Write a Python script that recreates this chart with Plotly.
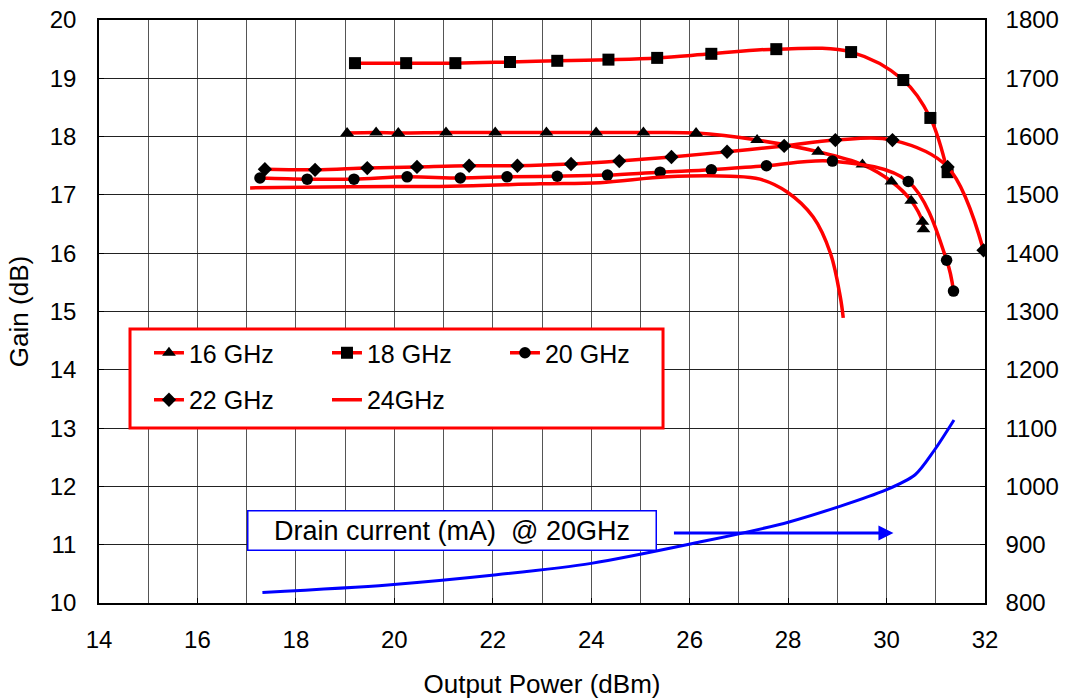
import plotly.graph_objects as go

# ---- data ----
p16 = [19.04, 19.63, 20.08, 21.05, 22.05, 23.09, 24.10, 25.06, 26.13, 27.37, 28.61, 29.51, 30.10, 30.50, 30.73, 30.75]
g16 = [18.06, 18.07, 18.06, 18.07, 18.07, 18.07, 18.07, 18.07, 18.06, 17.94, 17.74, 17.52, 17.23, 16.90, 16.54, 16.41]

p18 = [19.20, 20.24, 21.24, 22.35, 23.31, 24.35, 25.34, 26.44, 27.76, 29.28, 30.34, 30.89, 31.24]
g18 = [19.26, 19.26, 19.26, 19.28, 19.30, 19.32, 19.35, 19.42, 19.50, 19.45, 18.97, 18.32, 17.39]

p20 = [17.27, 18.23, 19.18, 20.26, 21.34, 22.29, 23.31, 24.33, 25.40, 26.44, 27.56, 28.90, 30.44, 31.22, 31.36]
g20 = [17.29, 17.27, 17.27, 17.31, 17.29, 17.31, 17.32, 17.34, 17.39, 17.43, 17.50, 17.58, 17.23, 15.88, 15.35]

p22 = [17.37, 18.39, 19.45, 20.46, 21.52, 22.50, 23.59, 24.57, 25.63, 26.76, 27.92, 28.96, 30.12, 31.24, 31.97]
g22 = [17.44, 17.43, 17.46, 17.48, 17.50, 17.50, 17.53, 17.58, 17.65, 17.74, 17.84, 17.94, 17.94, 17.48, 16.05]

p24 = [17.07, 19.10, 21.13, 22.96, 24.18, 25.54, 26.83, 27.43, 27.98, 28.51, 28.86, 29.06, 29.12]
g24 = [17.12, 17.14, 17.15, 17.19, 17.21, 17.31, 17.32, 17.27, 17.05, 16.62, 16.00, 15.25, 14.89]

p_id = [17.32, 19.87, 22.03, 24.00, 26.06, 28.02, 29.99, 30.58, 30.97, 31.37]
i_d = [818, 831, 848, 868, 902, 939, 994, 1020, 1062, 1114]

x_ticks = [14, 16, 18, 20, 22, 24, 26, 28, 30, 32]
gain_ticks = [10, 11, 12, 13, 14, 15, 16, 17, 18, 19, 20]
current_ticks = [800, 900, 1000, 1100, 1200, 1300, 1400, 1500, 1600, 1700, 1800]

FONT = "Liberation Sans, Arial, sans-serif"
RED = "#FF0000"
BLUE = "#0000FF"

fig = go.Figure()

series = [
    ("16 GHz", p16, g16, "triangle-up", 12, "legend"),
    ("18 GHz", p18, g18, "square", 12, "legend"),
    ("20 GHz", p20, g20, "circle", 11.5, "legend"),
    ("22 GHz", p22, g22, "diamond", 11, "legend2"),
]
for name, xs, ys, sym, sz, lg in series:
    fig.add_trace(go.Scatter(
        x=xs, y=ys, name=name, mode="lines+markers",
        line=dict(color=RED, width=3.5, shape="spline", smoothing=1),
        marker=dict(symbol=sym, size=sz, color="black"),
        legend=lg, legendwidth=133,
    ))

fig.add_trace(go.Scatter(
    x=p24, y=g24, name="24GHz", mode="lines",
    line=dict(color=RED, width=3.5, shape="spline", smoothing=1),
    legend="legend2", legendwidth=133,
))

fig.add_trace(go.Scatter(
    x=p_id, y=i_d, name="Drain current", mode="lines",
    line=dict(color=BLUE, width=3, shape="spline", smoothing=0.8),
    yaxis="y2", showlegend=False,
))

# legend frame
fig.add_shape(type="rect", xref="paper", yref="paper",
              x0=0.035, x1=0.6366, y0=0.300, y1=0.470,
              line=dict(color=RED, width=3), fillcolor="white", layer="above")

# drain current label and arrow
fig.add_annotation(x=21.18, y=11.25, xref="x", yref="y",
                   text="Drain current (mA)\u00a0 @ 20GHz", showarrow=False,
                   font=dict(family=FONT, size=27, color="black"),
                   bgcolor="white", bordercolor=BLUE, borderwidth=1.5,
                   borderpad=1, width=405, height=36,
                   xanchor="center", yanchor="middle")
fig.add_annotation(x=30.14, y=11.2, xref="x", yref="y",
                   ax=25.65, ay=11.2, axref="x", ayref="y",
                   text="", showarrow=True, arrowhead=2, arrowsize=1,
                   arrowwidth=3, arrowcolor=BLUE, standoff=0)

legend_common = dict(orientation="h", xanchor="left", yanchor="middle",
                     bgcolor="rgba(0,0,0,0)", borderwidth=0,
                     font=dict(family=FONT, size=25, color="black"),
                     x=0.0564, traceorder="normal")

fig.update_layout(
    width=1065, height=700,
    margin=dict(l=99, r=80, t=20, b=97, autoexpand=False),
    paper_bgcolor="white", plot_bgcolor="white",
    font=dict(family=FONT, size=24, color="black"),
    legend=dict(**legend_common, y=0.4288),
    legend2=dict(**legend_common, y=0.3482),
    xaxis=dict(
        range=[14, 32], tickvals=x_ticks, ticktext=[str(v) for v in x_ticks],
        showgrid=True, gridcolor="#555555", gridwidth=1,
        minor=dict(dtick=1, tick0=14, showgrid=True, gridcolor="#555555", gridwidth=1),
        showline=True, linecolor="black", linewidth=1.5, mirror=True,
        ticks="inside", ticklen=5, tickcolor="black",
        ticklabelstandoff=14, zeroline=False, automargin=False,
        title=dict(text="Output Power (dBm)", standoff=23, font=dict(size=26)),
        tickfont=dict(size=24),
    ),
    yaxis=dict(
        range=[10, 20], tickvals=gain_ticks,
        showgrid=True, gridcolor="#222222", gridwidth=1,
        showline=True, linecolor="black", linewidth=1.5,
        ticks="inside", ticklen=5, tickcolor="black",
        ticklabelstandoff=16, zeroline=False, automargin=False,
        title=dict(text="Gain (dB)", standoff=14, font=dict(size=26)),
        tickfont=dict(size=24),
    ),
    yaxis2=dict(
        range=[800, 1800], tickvals=current_ticks,
        overlaying="y", side="right", showgrid=False,
        showline=True, linecolor="black", linewidth=1.5,
        ticks="inside", ticklen=5, tickcolor="black",
        ticklabelstandoff=14, zeroline=False, automargin=False,
        tickfont=dict(size=24),
    ),
    showlegend=True,
)

fig.write_html("out.html", config={"displayModeBar": False},
               post_script="document.body.style.margin='0px';")
